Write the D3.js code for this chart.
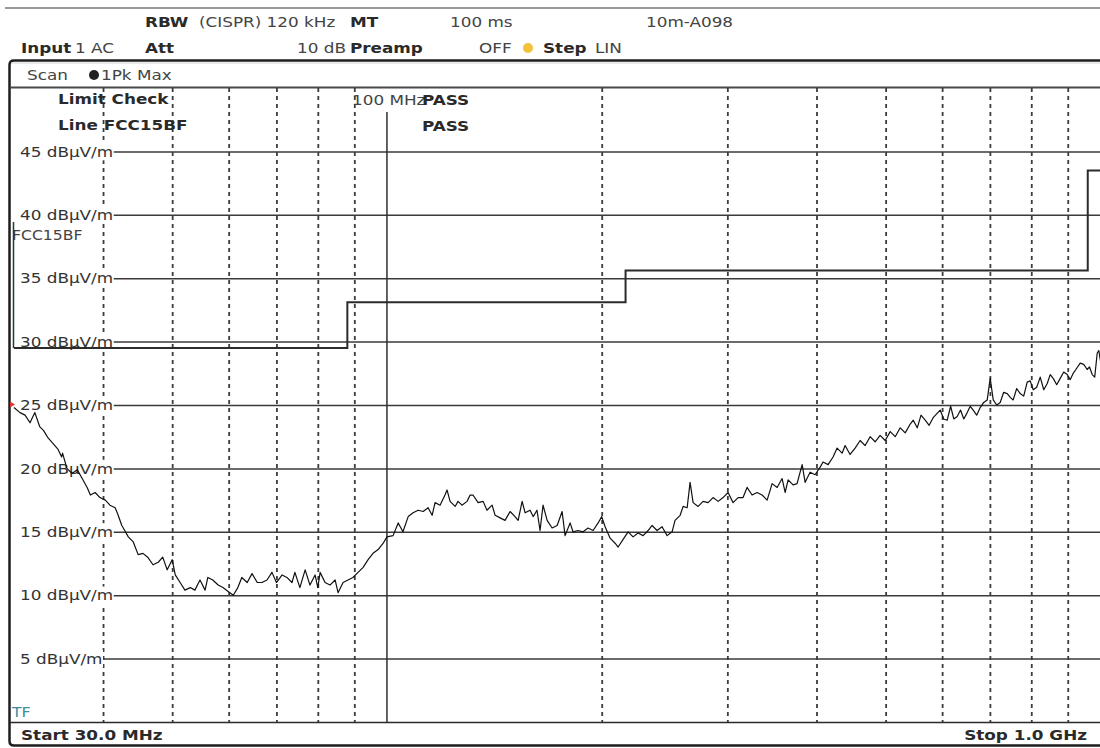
<!DOCTYPE html>
<html lang="en">
<head>
<meta charset="utf-8">
<title>EMI scan 30 MHz - 1 GHz</title>
<script src="https://cdn.jsdelivr.net/npm/d3@7"></script>
<style>
  body { margin: 0; background: #fff; }
  svg text { font-family: "DejaVu Sans", Verdana, sans-serif; }
</style>
</head>
<body>
<div id="chart"></div>
<script>
  // ---- data ----
  var yTicks = [5, 10, 15, 20, 25, 30, 35, 40, 45];
  var gridFreqs = [40, 50, 60, 70, 80, 90, 200, 300, 400, 500, 600, 700, 800, 900];
  var markerFreq = 100;

  // FCC 15 class B (10 m) limit line
  var limitFreq = [30, 88, 88, 216, 216, 960, 960, 1000];
  var limitLevel = [29.5, 29.5, 33.1, 33.1, 35.6, 35.6, 43.5, 43.5];

  // 1Pk Max trace, MHz / dBuV/m
  var traceFreq = [
    30.0, 30.6, 31.1, 31.6, 32.1, 32.6, 33.0, 33.5, 34.0, 34.6, 35.0, 35.1, 35.6, 36.2, 36.8, 37.4, 38.0, 38.4, 39.0, 39.6,
    40.3, 40.9, 41.6, 42.0, 42.5, 42.9, 43.4, 44.1, 44.8, 45.5, 46.2, 47.0, 47.8, 48.5, 49.2, 50.0, 50.5, 51.3, 52.1, 53.0,
    53.8, 54.7, 55.6, 56.1, 57.0, 58.0, 58.9, 59.9, 60.9, 61.8, 62.6, 63.7, 64.7, 65.8, 66.8, 67.9, 69.0, 70.0, 71.3, 72.4,
    73.6, 74.3, 75.5, 76.8, 78.0, 79.3, 80.0, 80.6, 81.9, 83.2, 84.6, 85.4, 86.8, 88.2, 89.6, 91.1, 92.6, 94.1, 95.6, 97.2,
    98.8, 100.0, 102.0, 103.7, 105.3, 107.1, 108.8, 110.6, 112.4, 114.2, 115.7, 116.8, 118.7, 120.6, 121.4, 122.6, 124.6, 125.8, 127.4, 129.5,
    130.8, 132.0, 134.2, 136.4, 138.1, 140.4, 141.8, 144.1, 146.4, 148.8, 151.2, 152.7, 154.7, 156.2, 158.7, 160.3, 162.3, 163.9, 165.5, 167.7,
    170.4, 173.2, 176.0, 177.7, 180.6, 182.3, 185.3, 188.3, 191.4, 194.5, 197.7, 200.0, 202.2, 205.5, 208.8, 210.9, 214.3, 217.8, 221.3, 224.9,
    228.6, 232.3, 235.3, 239.1, 243.0, 247.0, 251.0, 253.4, 257.6, 260.1, 263.5, 266.0, 268.6, 273.0, 277.4, 281.9, 286.5, 291.2, 295.9, 300.7,
    305.6, 310.6, 315.6, 319.7, 324.9, 330.2, 335.6, 341.1, 346.6, 352.3, 358.0, 361.5, 365.0, 370.9, 375.7, 381.9, 385.6, 391.8, 398.2, 404.7,
    408.6, 415.3, 422.0, 427.5, 434.5, 438.7, 445.8, 453.1, 460.5, 468.0, 475.6, 483.4, 491.2, 499.3, 507.4, 515.7, 524.1, 532.6, 541.3, 546.6,
    553.7, 560.5, 568.1, 575.4, 582.9, 589.5, 596.3, 603.0, 609.9, 616.7, 623.0, 629.9, 636.7, 643.5, 650.6, 657.0, 663.3, 670.8, 678.5, 686.2,
    694.0, 700.7, 707.6, 715.6, 723.7, 731.9, 740.3, 747.5, 754.7, 763.3, 772.0, 780.7, 789.6, 797.3, 805.1, 814.2, 823.5, 832.9, 842.3, 850.4,
    858.7, 868.5, 878.4, 888.3, 898.4, 907.1, 916.0, 926.4, 936.9, 947.6, 958.3, 965.5, 973.9, 981.8, 989.8, 995.0, 1000
  ];
  var traceLevel = [
    24.8, 24.4, 24.2, 23.6, 24.4, 23.3, 23.0, 22.4, 22.0, 21.5, 20.9, 21.2, 20.0, 19.6, 19.9, 19.2, 18.5, 17.9, 18.1, 17.7,
    17.5, 17.1, 16.9, 16.3, 15.5, 15.1, 14.6, 14.2, 13.2, 13.3, 13.0, 12.4, 12.6, 13.0, 12.0, 12.8, 11.6, 11.0, 10.4, 10.6,
    10.4, 11.2, 10.4, 11.4, 11.2, 10.8, 10.6, 10.3, 10.0, 10.6, 11.4, 11.0, 11.7, 11.0, 11.0, 11.2, 11.8, 11.0, 11.6, 11.4,
    11.0, 11.8, 10.6, 12.0, 10.8, 11.6, 10.6, 11.8, 11.0, 10.8, 11.2, 10.2, 11.0, 11.2, 11.4, 11.8, 12.2, 12.8, 13.3, 13.6,
    14.1, 14.6, 14.7, 15.7, 15.0, 16.2, 16.5, 16.7, 16.6, 16.9, 16.3, 17.3, 17.1, 17.9, 18.3, 17.4, 17.0, 17.4, 17.1, 17.4,
    17.9, 17.9, 17.3, 17.4, 16.7, 17.1, 16.3, 16.1, 15.9, 16.6, 16.2, 15.9, 17.4, 16.5, 16.7, 16.2, 16.7, 15.1, 17.1, 15.9,
    15.3, 15.5, 16.6, 14.7, 15.7, 15.0, 15.1, 15.0, 15.3, 15.1, 15.7, 16.2, 15.4, 14.5, 14.1, 13.8, 14.4, 15.0, 14.6, 14.9,
    14.7, 15.1, 15.5, 15.1, 15.4, 14.7, 15.0, 15.9, 16.3, 17.0, 16.9, 18.9, 17.3, 17.0, 17.4, 17.3, 17.7, 17.4, 17.7, 18.1,
    17.3, 17.7, 17.7, 18.5, 17.9, 18.1, 17.9, 17.5, 18.8, 18.5, 19.2, 18.1, 19.1, 18.7, 18.8, 20.3, 18.9, 19.7, 19.5, 20.1,
    20.5, 20.3, 20.9, 21.6, 21.2, 21.8, 21.1, 21.6, 22.2, 21.8, 22.5, 22.1, 22.6, 22.2, 22.9, 22.5, 23.2, 22.8, 23.5, 23.8,
    23.2, 24.2, 23.8, 23.4, 24.0, 24.3, 24.6, 23.9, 23.8, 24.9, 23.9, 24.1, 24.6, 23.9, 24.4, 24.9, 24.6, 24.2, 24.8, 25.2,
    25.4, 27.1, 25.4, 25.0, 25.2, 26.0, 25.9, 25.6, 25.4, 26.3, 25.9, 25.7, 26.8, 26.9, 26.2, 26.4, 27.2, 26.2, 26.7, 27.4,
    27.1, 26.6, 27.1, 27.6, 27.4, 27.0, 27.5, 27.9, 28.3, 28.2, 27.8, 28.0, 27.4, 27.2, 29.1, 29.3, 28.5
  ];

  // ---- layout ----
  var W = 1100, H = 748;
  var plotTop = 88, plotBottom = 722, plotLeft = 12, plotRight = 1100;
  var fs = 14.5, sx = 1.16;

  var x = d3.scaleLog().domain([30, 1000]).range([13.9, 1100.4]);
  var y = d3.scaleLinear().domain([0, 50]).range([plotBottom, plotTop]);

  var svg = d3.select('#chart').append('svg')
    .attr('width', W).attr('height', H)
    .style('display', 'block')
    .style('background', '#fff');

  function txt(g, px, py, s, o) {
    o = o || {};
    return g.append('text')
      .attr('transform', 'translate(' + px + ',' + py + ') scale(' + sx + ',1)')
      .attr('font-size', o.size || fs)
      .attr('font-weight', o.bold ? 'bold' : null)
      .attr('text-anchor', o.anchor || null)
      .attr('fill', o.fill || '#2a2a2a')
      .text(s);
  }

  // header
  svg.append('line').attr('x1', 5).attr('x2', W).attr('y1', 8).attr('y2', 8)
    .attr('stroke', '#777').attr('stroke-width', 1.5);

  var hdr = svg.append('g');
  txt(hdr, 145, 27, 'RBW', { bold: true });
  txt(hdr, 199, 27, '(CISPR) 120 kHz', { fill: '#444' });
  txt(hdr, 350, 27, 'MT', { bold: true });
  txt(hdr, 450, 27, '100 ms', { fill: '#444' });
  txt(hdr, 646, 27, '10m-A098', { fill: '#444' });
  txt(hdr, 21, 53, 'Input', { bold: true });
  txt(hdr, 75, 53, '1 AC', { fill: '#444' });
  txt(hdr, 145, 53, 'Att', { bold: true });
  txt(hdr, 297, 53, '10 dB', { fill: '#444' });
  txt(hdr, 350, 53, 'Preamp', { bold: true });
  txt(hdr, 479, 53, 'OFF', { fill: '#444' });
  hdr.append('circle').attr('cx', 528).attr('cy', 48).attr('r', 5).attr('fill', '#f2c33a');
  txt(hdr, 543, 53, 'Step', { bold: true });
  txt(hdr, 595, 53, 'LIN', { fill: '#444' });

  // panel frame
  svg.append('path')
    .attr('d', 'M' + W + ',60.5 H14 Q9.5,60.5 9.5,65 V741 Q9.5,745.5 14,745.5 H' + W)
    .attr('fill', 'none').attr('stroke', '#1e1e1e').attr('stroke-width', 2.5);
  svg.append('line').attr('x1', 11).attr('x2', W).attr('y1', 63).attr('y2', 63)
    .attr('stroke', '#d4d4d4').attr('stroke-width', 1);

  var scan = svg.append('g');
  txt(scan, 27, 80, 'Scan', { fill: '#444' });
  scan.append('circle').attr('cx', 94).attr('cy', 75).attr('r', 5).attr('fill', '#222');
  txt(scan, 101, 80, '1Pk Max', { fill: '#444' });

  svg.append('line').attr('x1', 10).attr('x2', W).attr('y1', plotTop - 0.5).attr('y2', plotTop - 0.5)
    .attr('stroke', '#4a4a4a').attr('stroke-width', 2);
  svg.append('line').attr('x1', 10).attr('x2', W).attr('y1', plotBottom + 0.5).attr('y2', plotBottom + 0.5)
    .attr('stroke', '#2a2a2a').attr('stroke-width', 1.5);

  // grid
  var yGrid = svg.append('g').attr('transform', 'translate(' + plotLeft + ',0)')
    .call(d3.axisRight(y).tickValues(yTicks).tickSize(plotRight - plotLeft).tickFormat(''));
  yGrid.select('.domain').remove();
  yGrid.selectAll('line').attr('stroke', '#3a3a3a').attr('stroke-width', 1.5);

  var xGrid = svg.append('g').attr('transform', 'translate(0,' + plotTop + ')')
    .call(d3.axisBottom(x).tickValues(gridFreqs).tickSize(plotBottom - plotTop).tickFormat(''));
  xGrid.select('.domain').remove();
  xGrid.selectAll('line').attr('stroke', '#3c3c3c').attr('stroke-width', 1.8)
    .attr('stroke-dasharray', '4,4');

  // y labels on white
  var yLab = svg.append('g');
  yTicks.forEach(function (v) {
    var g = yLab.append('g')
      .attr('transform', 'translate(20,' + y(v) + ') scale(' + sx + ',1)');
    var t = g.append('text').attr('dy', '0.36em').attr('font-size', fs)
      .attr('fill', '#333').text(v + ' dBµV/m');
    var b = t.node().getBBox();
    var off = (20 - plotLeft) / sx;
    g.insert('rect', 'text')
      .attr('x', -off).attr('y', b.y)
      .attr('width', b.width + off + 0.5).attr('height', b.height)
      .attr('fill', '#fff');
  });

  // limit check texts
  var lc = svg.append('g');
  txt(lc, 58, 104, 'Limit Check', { bold: true });
  txt(lc, 58, 130, 'Line FCC15BF', { bold: true });
  txt(lc, 352, 105, '100 MHz', { fill: '#444' });
  txt(lc, 422, 105, 'PASS', { bold: true });
  txt(lc, 422, 131, 'PASS', { bold: true });

  txt(svg, 12, 240, 'FCC15BF', { fill: '#444', size: 13.5 });
  txt(svg, 12, 717, 'TF', { fill: '#3e8c9c', size: 13.5 });

  // marker line
  svg.append('line')
    .attr('x1', x(markerFreq)).attr('x2', x(markerFreq))
    .attr('y1', 112).attr('y2', plotBottom)
    .attr('stroke', '#2e2e2e').attr('stroke-width', 1.5);

  // limit line
  var limitData = d3.zip(limitFreq, limitLevel);
  var lineGen = d3.line().x(function (d) { return x(d[0]); }).y(function (d) { return y(d[1]); });
  svg.append('line').attr('x1', 13.5).attr('x2', 13.5).attr('y1', 222).attr('y2', y(limitLevel[0]))
    .attr('stroke', '#1f3b3b').attr('stroke-width', 1.5);
  svg.append('path').datum(limitData)
    .attr('d', lineGen)
    .attr('fill', 'none').attr('stroke', '#2b2b2b').attr('stroke-width', 2);

  // trace
  svg.append('clipPath').attr('id', 'plotclip').append('rect')
    .attr('x', plotLeft).attr('y', plotTop).attr('width', plotRight - plotLeft).attr('height', plotBottom - plotTop);
  var traceData = d3.zip(traceFreq, traceLevel);
  svg.append('path').datum(traceData)
    .attr('clip-path', 'url(#plotclip)')
    .attr('d', lineGen)
    .attr('fill', 'none').attr('stroke', '#111').attr('stroke-width', 1.2)
    .attr('stroke-linejoin', 'round');

  // trace start marker
  svg.append('path')
    .attr('d', 'M10,' + (y(traceLevel[0]) - 6) + ' l5,3 l-5,3 z')
    .attr('fill', '#d33');

  // footer
  txt(svg, 21, 740, 'Start 30.0 MHz', { bold: true });
  txt(svg, 1087, 740, 'Stop 1.0 GHz', { bold: true, anchor: 'end' });
</script>
</body>
</html>
